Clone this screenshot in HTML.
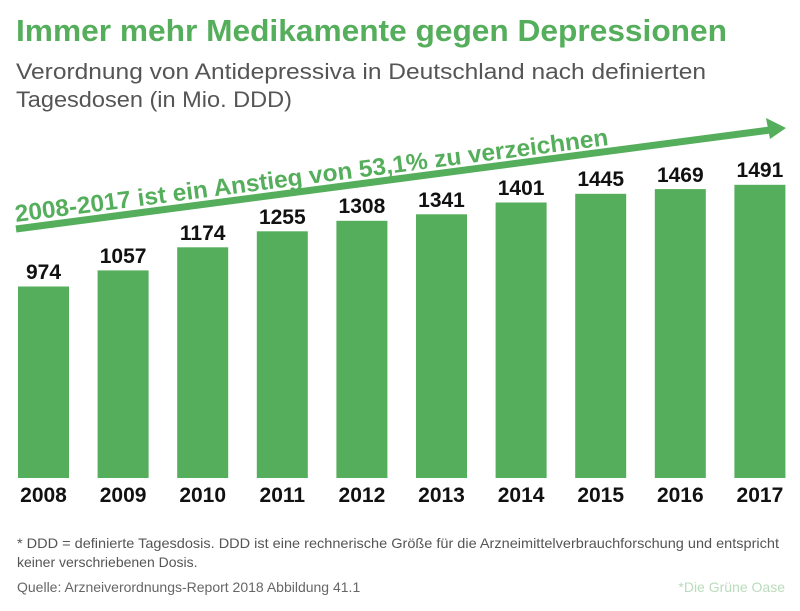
<!DOCTYPE html>
<html><head><meta charset="utf-8"><style>
body{margin:0;background:#fff;}
svg{display:block;font-family:"Liberation Sans",sans-serif;}
</style></head><body>
<svg width="800" height="611" viewBox="0 0 800 611" xmlns="http://www.w3.org/2000/svg">
<text x="16" y="41" font-size="31" font-weight="bold" fill="#55ae5b" textLength="711" lengthAdjust="spacingAndGlyphs">Immer mehr Medikamente gegen Depressionen</text>
<text x="16" y="79" font-size="22" fill="#555" textLength="690" lengthAdjust="spacingAndGlyphs">Verordnung von Antidepressiva in Deutschland nach definierten</text>
<text x="16" y="107" font-size="22" fill="#555" textLength="276" lengthAdjust="spacingAndGlyphs">Tagesdosen (in Mio. DDD)</text>
<line x1="16" y1="229" x2="770" y2="130" stroke="#55ae5b" stroke-width="7"/>
<polygon points="786,128 766,118 770,139" fill="#55ae5b"/>
<text transform="translate(16,222) rotate(-7.4)" font-size="24" font-weight="bold" fill="#55ae5b" textLength="598" lengthAdjust="spacingAndGlyphs">2008-2017 ist ein Anstieg von 53,1% zu verzeichnen</text>
<g fill="#55ae5b">
<rect x="18" y="286.5" width="51" height="191.5"/>
<rect x="97.6" y="270.4" width="51" height="207.6"/>
<rect x="177.2" y="247.3" width="51" height="230.7"/>
<rect x="256.8" y="231.3" width="51" height="246.7"/>
<rect x="336.4" y="220.8" width="51" height="257.2"/>
<rect x="416" y="214.3" width="51" height="263.7"/>
<rect x="495.6" y="202.5" width="51" height="275.5"/>
<rect x="575.2" y="193.8" width="51" height="284.2"/>
<rect x="654.8" y="189.1" width="51" height="288.9"/>
<rect x="734.4" y="184.8" width="51" height="293.2"/>
</g>
<g font-size="21" font-weight="bold" fill="#111" text-anchor="middle">
<text x="43.5" y="279">974</text>
<text x="123.1" y="263">1057</text>
<text x="202.7" y="240">1174</text>
<text x="282.3" y="224">1255</text>
<text x="361.9" y="213">1308</text>
<text x="441.5" y="207">1341</text>
<text x="521.1" y="195">1401</text>
<text x="600.7" y="186">1445</text>
<text x="680.3" y="182">1469</text>
<text x="759.9" y="177">1491</text>
</g>
<g font-size="21" font-weight="bold" fill="#111" text-anchor="middle">
<text x="43.5" y="502">2008</text>
<text x="123.1" y="502">2009</text>
<text x="202.7" y="502">2010</text>
<text x="282.3" y="502">2011</text>
<text x="361.9" y="502">2012</text>
<text x="441.5" y="502">2013</text>
<text x="521.1" y="502">2014</text>
<text x="600.7" y="502">2015</text>
<text x="680.3" y="502">2016</text>
<text x="759.9" y="502">2017</text>
</g>
<text x="17" y="548" font-size="14" fill="#555" textLength="762" lengthAdjust="spacingAndGlyphs">* DDD = definierte Tagesdosis. DDD ist eine rechnerische Größe für die Arzneimittelverbrauchforschung und entspricht</text>
<text x="17" y="567" font-size="14" fill="#555">keiner verschriebenen Dosis.</text>
<text x="17" y="592" font-size="14" fill="#666">Quelle: Arzneiverordnungs-Report 2018 Abbildung 41.1</text>
<text x="785" y="592" font-size="14" fill="#b9dcbc" text-anchor="end">*Die Grüne Oase</text>
</svg>
</body></html>
